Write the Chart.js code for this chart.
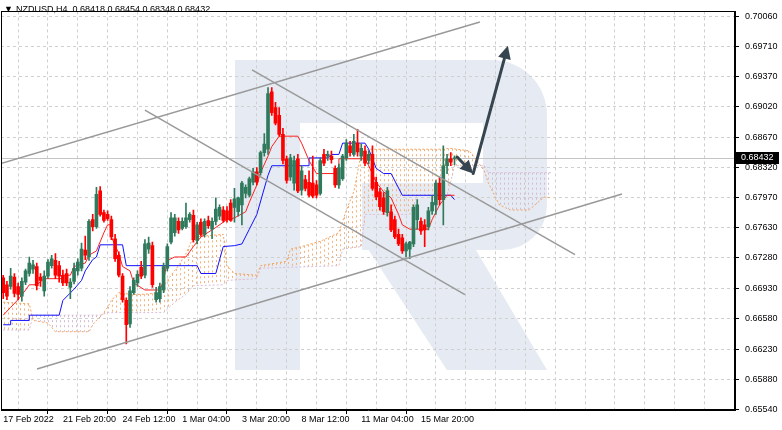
<!DOCTYPE html>
<html lang="en">
<head>
<meta charset="UTF-8" />
<title>NZDUSD,H4</title>
<script src="https://cdn.jsdelivr.net/npm/chart.js"></script>
<style>
  html, body { margin: 0; padding: 0; background: #fff; }
</style>
</head>
<body>
<canvas id="myChart" width="782" height="430"></canvas>
<script>
// H4 candles, 17 Feb 2022 .. 17 Mar 2022
const opens = [
  0.6705, 0.6697, 0.6695, 0.6706, 0.6695, 0.6684, 0.6700, 0.6710, 0.6715, 0.6718,
  0.6706, 0.6690, 0.6707, 0.6719, 0.6725, 0.6719, 0.6708, 0.6710, 0.6694, 0.6701,
  0.6713, 0.6716, 0.6737, 0.6729, 0.6772, 0.6764, 0.6805, 0.6780, 0.6778, 0.6772,
  0.6750, 0.6731, 0.6707, 0.6679, 0.6652, 0.6688, 0.6699, 0.6717, 0.6708, 0.6738,
  0.6742, 0.6680, 0.6681, 0.6691, 0.6716, 0.6746, 0.6757, 0.6770, 0.6762, 0.6764,
  0.6772, 0.6777, 0.6748, 0.6769, 0.6755, 0.6771, 0.6761, 0.6770, 0.6776, 0.6783,
  0.6782, 0.6791, 0.6786, 0.6781, 0.6789, 0.6802, 0.6800, 0.6815, 0.6827, 0.6826,
  0.6849, 0.6853, 0.6919, 0.6901, 0.6892, 0.6870, 0.6842, 0.6821, 0.6814, 0.6842,
  0.6806, 0.6818, 0.6815, 0.6814, 0.6812, 0.6802, 0.6847, 0.6845, 0.6845, 0.6831,
  0.6812, 0.6819, 0.6843, 0.6857, 0.6847, 0.6860, 0.6845, 0.6851, 0.6840, 0.6847,
  0.6815, 0.6804, 0.6797, 0.6780, 0.6781, 0.6772, 0.6755, 0.6751, 0.6736, 0.6738,
  0.6744, 0.6772, 0.6770, 0.6766, 0.6764, 0.6782, 0.6789, 0.6814, 0.6795, 0.6834,
  0.6842, 0.68418
];
const highs = [
  0.6708, 0.6701, 0.6716, 0.6710, 0.6699, 0.6705, 0.6715, 0.6729, 0.6725, 0.6722,
  0.6710, 0.6713, 0.6726, 0.6731, 0.6733, 0.6724, 0.6714, 0.6715, 0.6704, 0.6722,
  0.6727, 0.6745, 0.6753, 0.6772, 0.6778, 0.6809, 0.6810, 0.6783, 0.6782, 0.6776,
  0.6755, 0.6735, 0.6710, 0.6682, 0.6695, 0.6705, 0.6713, 0.6724, 0.6749, 0.6752,
  0.6746, 0.6694, 0.6699, 0.6722, 0.6744, 0.6780, 0.6778, 0.6774, 0.6774, 0.6791,
  0.6780, 0.6783, 0.6769, 0.6773, 0.6773, 0.6776, 0.6774, 0.6797, 0.6789, 0.6787,
  0.6787, 0.6795, 0.6808, 0.6798, 0.6816, 0.6812, 0.6821, 0.6831, 0.6832, 0.6851,
  0.6871, 0.6924, 0.6924, 0.6907, 0.6901, 0.6877, 0.6845, 0.6847, 0.6845, 0.6847,
  0.6834, 0.6823, 0.6828, 0.6845, 0.6817, 0.6843, 0.6853, 0.6851, 0.6851, 0.6834,
  0.6836, 0.6847, 0.6864, 0.6862, 0.6870, 0.6876, 0.6859, 0.6857, 0.6851, 0.6857,
  0.6821, 0.6808, 0.6803, 0.6809, 0.6789, 0.6776, 0.6761, 0.6755, 0.6746, 0.6747,
  0.6789, 0.6795, 0.6774, 0.6772, 0.6786, 0.6800, 0.6817, 0.6821, 0.6857, 0.6847,
  0.6849, 0.68454
];
const lows = [
  0.6681, 0.6680, 0.6692, 0.6683, 0.6680, 0.6678, 0.6697, 0.6707, 0.6710, 0.6691,
  0.6695, 0.6684, 0.6704, 0.6716, 0.6704, 0.6700, 0.6696, 0.6696, 0.6681, 0.6698,
  0.6708, 0.6713, 0.6726, 0.6725, 0.6759, 0.6762, 0.6776, 0.6769, 0.6771, 0.6749,
  0.6724, 0.6706, 0.6677, 0.6629, 0.6648, 0.6686, 0.6695, 0.6704, 0.6705, 0.6733,
  0.6694, 0.6677, 0.6677, 0.6688, 0.6713, 0.6744, 0.6753, 0.6756, 0.6760, 0.6762,
  0.6769, 0.6746, 0.6744, 0.6753, 0.6752, 0.6762, 0.6750, 0.6766, 0.6772, 0.6769,
  0.6769, 0.6770, 0.6769, 0.6776, 0.6766, 0.6797, 0.6798, 0.6812, 0.6812, 0.6823,
  0.6845, 0.6847, 0.6892, 0.6881, 0.6868, 0.6836, 0.6814, 0.6817, 0.6806, 0.6803,
  0.6800, 0.6805, 0.6798, 0.6797, 0.6797, 0.6800, 0.6834, 0.6840, 0.6837, 0.6809,
  0.6808, 0.6817, 0.6840, 0.6845, 0.6845, 0.6845, 0.6840, 0.6834, 0.6836, 0.6806,
  0.6795, 0.6783, 0.6778, 0.6776, 0.6758, 0.6750, 0.6742, 0.6733, 0.6729, 0.6727,
  0.6741, 0.6761, 0.6755, 0.6741, 0.6760, 0.6778, 0.6778, 0.6789, 0.6766, 0.6825,
  0.6834, 0.68348
];
const closes = [
  0.6688, 0.6684, 0.6707, 0.6687, 0.6686, 0.6701, 0.6713, 0.6722, 0.6720, 0.6696,
  0.6702, 0.6707, 0.6723, 0.6727, 0.6708, 0.6707, 0.6699, 0.6699, 0.6700, 0.6716,
  0.6723, 0.6738, 0.6731, 0.6770, 0.6764, 0.6801, 0.6778, 0.6771, 0.6773, 0.6752,
  0.6727, 0.6708, 0.6680, 0.6651, 0.6690, 0.6702, 0.6709, 0.6707, 0.6744, 0.6745,
  0.6697, 0.6688, 0.6695, 0.6718, 0.6741, 0.6774, 0.6774, 0.6760, 0.6770, 0.6774,
  0.6778, 0.6749, 0.6766, 0.6755, 0.6770, 0.6765, 0.6770, 0.6784, 0.6786, 0.6771,
  0.6772, 0.6771, 0.6796, 0.6797, 0.6814, 0.6809, 0.6819, 0.6827, 0.6815, 0.6849,
  0.6859, 0.6917, 0.6895, 0.6883, 0.6870, 0.6840, 0.6817, 0.6843, 0.6840, 0.6805,
  0.6828, 0.6808, 0.6800, 0.6799, 0.6800, 0.6840, 0.6837, 0.6847, 0.6841, 0.6812,
  0.6832, 0.6845, 0.6860, 0.6849, 0.6862, 0.6850, 0.6854, 0.6837, 0.6847, 0.6808,
  0.6798, 0.6787, 0.6781, 0.6805, 0.6760, 0.6752, 0.6744, 0.6736, 0.6744, 0.6746,
  0.6786, 0.6789, 0.6759, 0.6760, 0.6782, 0.6792, 0.6814, 0.6795, 0.6834, 0.6842,
  0.6838, 0.68432
];

// Ichimoku lines, read at their turning points (bar index, price)
const tenkanIdx = [0, 2, 4, 6, 7, 9, 11, 16, 16, 18, 19, 22, 23, 25, 27, 28, 29, 29, 31, 32,
  34, 35, 38, 42, 43, 44, 46, 49, 50, 51, 53, 57, 60, 62, 65, 66, 68, 69, 71, 72,
  74, 79, 80, 82, 84, 90, 90, 97, 98, 100, 102, 104, 106, 107, 109, 114, 115, 117, 119, 121];
const tenkanVal = [0.6662, 0.6671, 0.6680, 0.6691, 0.6697, 0.6697, 0.6704, 0.6704, 0.6708, 0.6708,
  0.6718, 0.6722, 0.6731, 0.6736, 0.6757, 0.6766, 0.6766, 0.6752, 0.6733, 0.6718,
  0.6713, 0.6699, 0.6691, 0.6691, 0.6702, 0.6725, 0.6729, 0.6729, 0.6735, 0.6741,
  0.6752, 0.6763, 0.6772, 0.6774, 0.6781, 0.6792, 0.6812, 0.6826, 0.6845, 0.6856,
  0.6868, 0.6868, 0.6860, 0.6840, 0.6825, 0.6825, 0.6842, 0.6842, 0.6834, 0.6815,
  0.6804, 0.6797, 0.6778, 0.6766, 0.6761, 0.6761, 0.6772, 0.6789, 0.6800, 0.6800];

const kijunIdx = [0, 2, 2, 7, 7, 15, 16, 19, 21, 22, 24, 25, 26, 32, 33, 52, 53, 57, 59, 62,
  64, 66, 68, 71, 72, 82, 82, 87, 88, 90, 91, 97, 98, 100, 102, 104, 107, 120, 121];
const kijunVal = [0.6651, 0.6651, 0.6656, 0.6656, 0.6662, 0.6662, 0.6679, 0.6692, 0.6702, 0.6713,
  0.6726, 0.6729, 0.6743, 0.6743, 0.6719, 0.6719, 0.6710, 0.6710, 0.6741, 0.6742,
  0.6744, 0.6761, 0.6778, 0.6823, 0.6834, 0.6834, 0.6843, 0.6843, 0.6847, 0.6847,
  0.6860, 0.6860, 0.6853, 0.6831, 0.6825, 0.6825, 0.6800, 0.6800, 0.6795];

const spanAIdx = [0, 7, 8, 12, 14, 23, 24, 25, 26, 28, 29, 31, 34, 38, 42, 43, 45, 47, 49, 51,
  59, 60, 62, 68, 69, 76, 77, 80, 85, 90, 92, 94, 96, 98, 117, 120, 125, 127, 129, 130,
  133, 136, 141, 145, 147];
const spanAVal = [0.6677, 0.6675, 0.6656, 0.6653, 0.6643, 0.6643, 0.6651, 0.6656, 0.6660, 0.6671,
  0.6679, 0.6688, 0.6686, 0.6686, 0.6688, 0.6696, 0.6708, 0.6719, 0.6733, 0.6752,
  0.6755, 0.6719, 0.6710, 0.6708, 0.6719, 0.6724, 0.6738, 0.6741, 0.6747, 0.6757,
  0.6783, 0.6804, 0.6849, 0.6853, 0.6853, 0.6854, 0.6851, 0.6840, 0.6828, 0.6815,
  0.6789, 0.6783, 0.6783, 0.6798, 0.6797];

const spanBIdx = [0, 7, 8, 26, 28, 43, 46, 49, 51, 59, 60, 68, 69, 90, 91, 96, 97, 109, 110, 111,
  119, 120, 121, 129, 130, 147];
const spanBVal = [0.6645, 0.6645, 0.6662, 0.6662, 0.6665, 0.6665, 0.6677, 0.6686, 0.6696, 0.6697,
  0.6702, 0.6704, 0.6716, 0.6719, 0.6738, 0.6741, 0.6778, 0.6778, 0.6787, 0.6800,
  0.6800, 0.6816, 0.6834, 0.6834, 0.6826, 0.6826];

// trend lines drawn on the chart: [startIdx, startPrice, endIdx, endPrice]
const trendLines = [
  [-0.86, 0.68362, 127.8, 0.69993],
  [9.06, 0.66001, 165.9, 0.68014],
  [66.7, 0.69442, 153.3, 0.67317],
  [38.0, 0.68981, 123.8, 0.66856]
];
// forecast arrow: down to the cloud, then up
const arrowIdx = [121.7, 126.0, 135.3];
const arrowVal = [0.6844, 0.6825, 0.6972];

const yTicks = [0.70060, 0.69710, 0.69370, 0.69020, 0.68670, 0.68320, 0.67970,
  0.67630, 0.67280, 0.66930, 0.66580, 0.66230, 0.65880, 0.65540];
const xLabels = {
  0: '17 Feb 2022', 16: '21 Feb 20:00', 32: '24 Feb 12:00', 48: '1 Mar 04:00',
  64: '3 Mar 20:00', 80: '8 Mar 12:00', 96: '11 Mar 04:00', 112: '15 Mar 20:00'
};
const header = 'NZDUSD,H4  0.68418 0.68454 0.68348 0.68432';

const font = "'Liberation Sans', Arial, sans-serif";
const bullColor = '#2f7a5c';
const bearColor = '#ff0000';
const spanAColor = '#f4a460';
const spanBColor = '#d8bfd8';

function pts(xs, ys) {
  return xs.map((x, k) => ({ x: x, y: ys[k] }));
}

// value of a polyline (idx, val) at position v
function valueAt(xs, ys, v) {
  if (v <= xs[0]) return ys[0];
  for (let k = xs.length - 1; k > 0; k--) {
    if (v >= xs[k - 1] && v <= xs[k]) {
      const d = xs[k] - xs[k - 1];
      if (d === 0) return ys[k];
      return ys[k - 1] + (ys[k] - ys[k - 1]) * (v - xs[k - 1]) / d;
    }
  }
  return ys[ys.length - 1];
}

const candleColors = closes.map((c, i) => (c >= opens[i] ? bullColor : bearColor));

const trendSets = trendLines.map(t => ({
  type: 'line',
  data: [{ x: t[0], y: t[1] }, { x: t[2], y: t[3] }],
  borderColor: '#999999',
  borderWidth: 1.5,
  pointRadius: 0,
  order: 1
}));

// watermark, cloud hatch, bid line, frame, header, price tag
const decor = {
  id: 'decor',
  beforeDraw(chart) {
    const ctx = chart.ctx;
    ctx.save();
    ctx.fillStyle = '#fff';
    ctx.fillRect(0, 0, chart.width, chart.height);
    ctx.fillStyle = '#e6ebf3';
    ctx.beginPath();
    ctx.roundRect(235, 60, 312, 190, [0, 55, 45, 0]);
    ctx.fill();
    ctx.beginPath();
    ctx.moveTo(362, 240); ctx.lineTo(470, 240); ctx.lineTo(547, 370); ctx.lineTo(447, 370);
    ctx.closePath();
    ctx.fill();
    ctx.fillStyle = '#fff';
    ctx.fillRect(300, 123, 183, 60);
    ctx.fillRect(300, 183, 62, 67);
    ctx.fillStyle = '#e6ebf3';
    ctx.fillRect(235, 60, 65, 310);
    ctx.restore();
  },
  beforeDatasetsDraw(chart) {
    const { ctx, chartArea: a, scales: { x, y } } = chart;
    ctx.save();
    ctx.beginPath();
    ctx.rect(a.left, a.top, a.right - a.left, a.bottom - a.top);
    ctx.clip();
    // hatched Ichimoku cloud between span A and span B
    ctx.lineWidth = 1;
    ctx.setLineDash([2, 3]);
    const x0 = Math.ceil(x.getPixelForValue(spanAIdx[0]));
    const x1 = Math.floor(x.getPixelForValue(spanAIdx[spanAIdx.length - 1]));
    for (let px = x0; px <= x1; px += 4) {
      const v = x.getValueForPixel(px);
      const ya = y.getPixelForValue(valueAt(spanAIdx, spanAVal, v));
      const yb = y.getPixelForValue(valueAt(spanBIdx, spanBVal, v));
      if (Math.abs(ya - yb) < 1) continue;
      ctx.strokeStyle = ya < yb ? '#f6b07a' : '#d2b9d6';
      ctx.beginPath();
      ctx.moveTo(px + 0.5, Math.min(ya, yb));
      ctx.lineTo(px + 0.5, Math.max(ya, yb));
      ctx.stroke();
    }
    ctx.setLineDash([]);
    const py = Math.round(y.getPixelForValue(closes[closes.length - 1])) + 0.5;
    ctx.strokeStyle = '#c4c4c4';
    ctx.beginPath();
    ctx.moveTo(a.left, py); ctx.lineTo(a.right, py);
    ctx.stroke();
    ctx.restore();
  },
  afterDatasetsDraw(chart) {
    const { ctx, scales: { x, y } } = chart;
    const p = arrowIdx.map((v, k) => [x.getPixelForValue(v), y.getPixelForValue(arrowVal[k])]);
    ctx.save();
    ctx.strokeStyle = '#36454f';
    ctx.fillStyle = '#36454f';
    ctx.lineWidth = 3;
    ctx.lineCap = 'round';
    for (let k = 0; k < p.length - 1; k++) {
      const [xa, ya] = p[k], [xb, yb] = p[k + 1];
      const ang = Math.atan2(yb - ya, xb - xa);
      const len = 13, hw = 6.5;
      const bx = xb - len * Math.cos(ang), by = yb - len * Math.sin(ang);
      ctx.beginPath();
      ctx.moveTo(xa, ya); ctx.lineTo(bx, by);
      ctx.stroke();
      ctx.beginPath();
      ctx.moveTo(xb, yb);
      ctx.lineTo(bx + hw * Math.sin(ang), by - hw * Math.cos(ang));
      ctx.lineTo(bx - hw * Math.sin(ang), by + hw * Math.cos(ang));
      ctx.closePath();
      ctx.fill();
    }
    ctx.restore();
  },
  afterDraw(chart) {
    const { ctx, chartArea: a, scales: { y } } = chart;
    ctx.save();
    ctx.strokeStyle = '#000';
    ctx.lineWidth = 1;
    ctx.strokeRect(Math.round(a.left) + 0.5, Math.round(a.top) + 0.5,
      Math.round(a.right - a.left) - 1, Math.round(a.bottom - a.top) - 1);
    ctx.fillStyle = '#000';
    ctx.font = '9px ' + font;
    ctx.textBaseline = 'middle';
    ctx.fillText('\u25BC', 4, 10);
    ctx.fillText(header, 16, 10);
    const last = closes[closes.length - 1];
    const py = Math.round(y.getPixelForValue(last));
    ctx.fillRect(a.right + 1, py - 6, 43, 12);
    ctx.fillStyle = '#fff';
    ctx.fillText(last.toFixed(5), a.right + 6, py);
    ctx.restore();
  }
};

const config = {
  type: 'bar',
  data: {
    datasets: [
      ...trendSets,
      {
        type: 'bar',
        data: opens.map((o, i) => ({ x: i, y: [o, closes[i]] })),
        backgroundColor: candleColors,
        borderWidth: 0,
        barThickness: 3,
        grouped: false,
        order: 2
      },
      {
        type: 'bar',
        data: lows.map((l, i) => ({ x: i, y: [l, highs[i]] })),
        backgroundColor: candleColors,
        borderWidth: 0,
        barThickness: 1,
        grouped: false,
        order: 3
      },
      {
        type: 'line',
        data: pts(tenkanIdx, tenkanVal),
        borderColor: '#ff2020',
        borderWidth: 1,
        pointRadius: 0,
        order: 4
      },
      {
        type: 'line',
        data: pts(kijunIdx, kijunVal),
        borderColor: '#1010ff',
        borderWidth: 1,
        pointRadius: 0,
        order: 4
      },
      {
        type: 'line',
        data: pts(spanAIdx, spanAVal),
        borderColor: spanAColor,
        borderDash: [2, 2],
        borderWidth: 1,
        pointRadius: 0,
        order: 5
      },
      {
        type: 'line',
        data: pts(spanBIdx, spanBVal),
        borderColor: spanBColor,
        borderDash: [2, 2],
        borderWidth: 1,
        pointRadius: 0,
        order: 6
      }
    ]
  },
  options: {
    responsive: false,
    animation: false,
    layout: { padding: { left: 1, top: 2, right: 0, bottom: 0 } },
    plugins: { legend: { display: false }, tooltip: { enabled: false } },
    scales: {
      x: {
        type: 'linear',
        min: -0.59,
        max: 196.2,
        offset: false,
        afterFit(scale) { scale.height = 20; },
        afterBuildTicks(scale) {
          const t = [];
          for (let v = 0; v <= 192; v += 8) t.push({ value: v });
          scale.ticks = t;
        },
        grid: {
          color: '#cfcfcf',
          tickLength: 4,
          tickColor: c => (xLabels[c.tick && c.tick.value] ? '#000' : 'rgba(0,0,0,0)')
        },
        border: { color: '#000', dash: [3, 3] },
        ticks: {
          autoSkip: false,
          maxRotation: 0,
          align: 'start',
          padding: 0,
          color: '#000',
          font: { family: font, size: 9 },
          callback: v => xLabels[v] || ''
        }
      },
      y: {
        position: 'right',
        min: 0.65529,
        max: 0.70116,
        afterFit(scale) { scale.width = 47; },
        afterBuildTicks(scale) { scale.ticks = yTicks.map(v => ({ value: v })); },
        grid: { color: '#cfcfcf', tickLength: 4, tickColor: '#000' },
        border: { color: '#000', dash: [3, 3] },
        ticks: {
          padding: 6,
          color: '#000',
          font: { family: font, size: 9 },
          callback: v => v.toFixed(5)
        }
      }
    }
  },
  plugins: [decor]
};

const myChart = new Chart(document.getElementById('myChart'), config);
</script>
</body>
</html>
